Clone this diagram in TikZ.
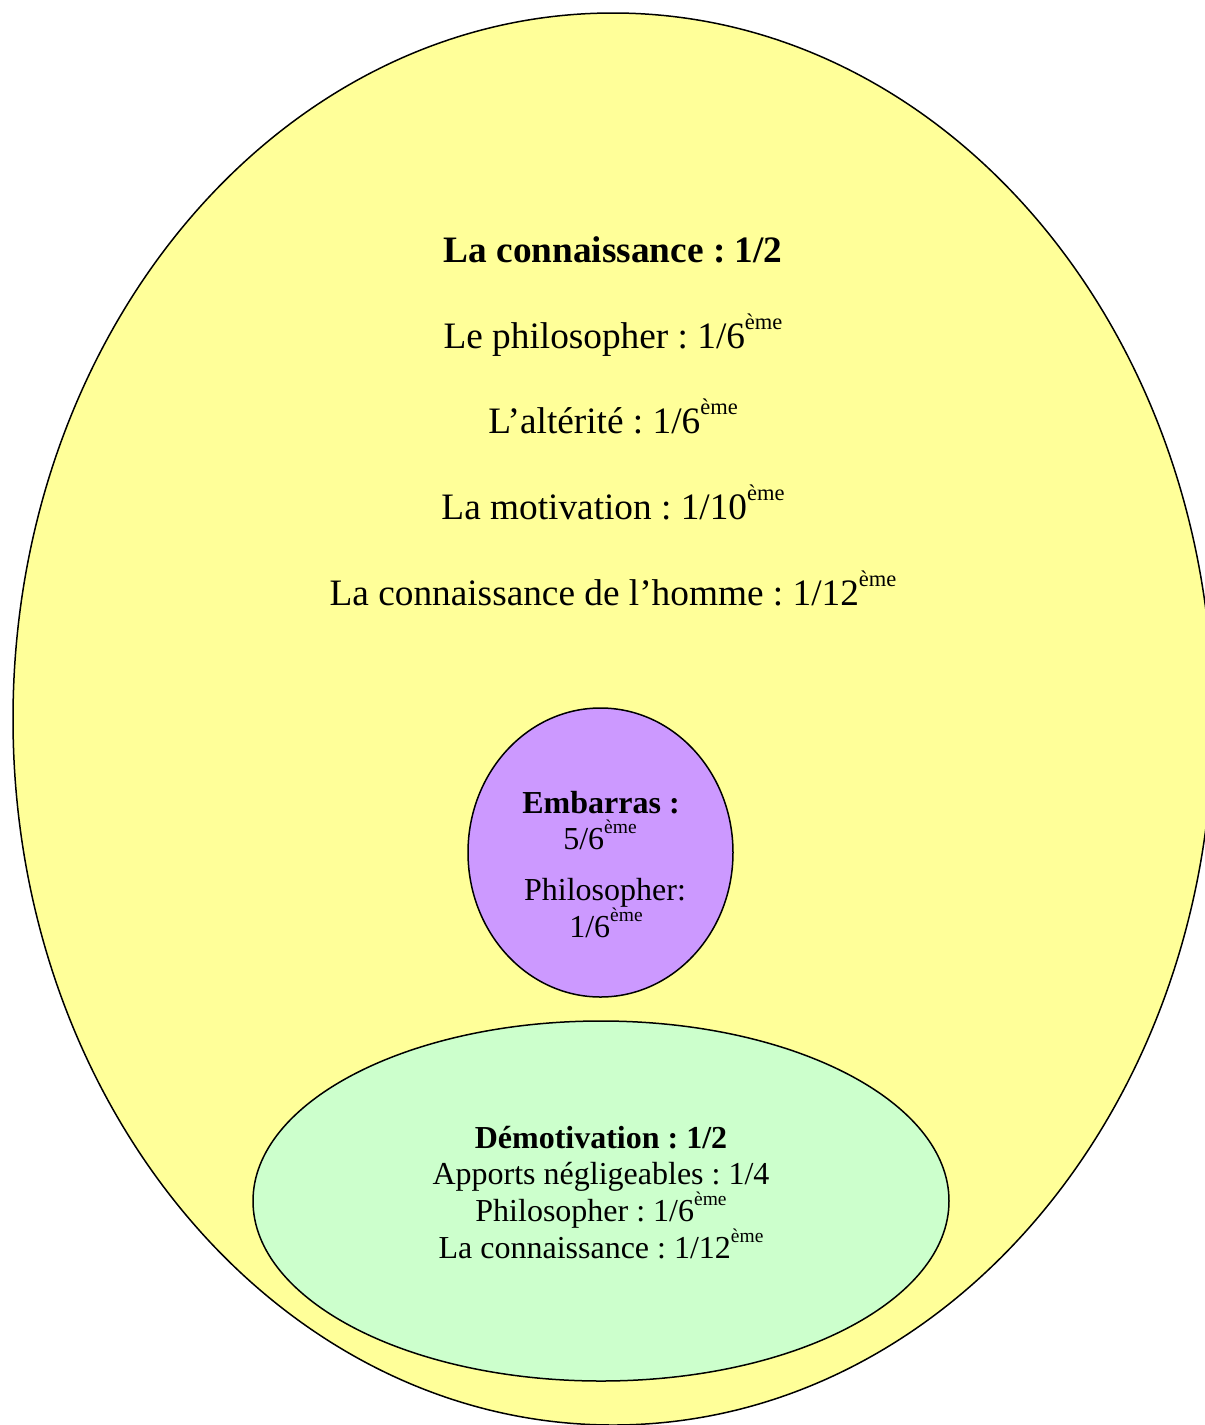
\documentclass[tikz,border=0pt]{standalone}
\usepackage{fontspec}
\setmainfont{Liberation Serif}
\frenchspacing
\definecolor{yel}{HTML}{FFFF99}
\definecolor{pur}{HTML}{CC99FF}
\definecolor{grn}{HTML}{CCFFCC}
\newcommand{\emeB}{\raisebox{19pt}{\fontsize{22.5}{22.5}\selectfont\mdseries ème}}
\newcommand{\emeS}{\raisebox{15.5pt}{\fontsize{19.5}{19.5}\selectfont\mdseries ème}}
\begin{document}
\begin{tikzpicture}[x=1pt,y=-1pt,
  big/.style={font=\fontsize{37.3}{44}\selectfont,anchor=base,inner sep=0pt},
  small/.style={font=\fontsize{32}{38}\selectfont,anchor=base,inner sep=0pt},
  shapeline/.style={draw=black,line width=1.5pt}]
\useasboundingbox (0,0) rectangle (1205,1425);
\clip (0,0) rectangle (1205,1425);
\fill[white] (0,0) rectangle (1205,1425);
\draw[shapeline,fill=yel] (613,719) ellipse [x radius=600, y radius=706];
\draw[shapeline,fill=pur] (600.5,852.5) ellipse [x radius=132.5, y radius=144.5];
\draw[shapeline,fill=grn] (601,1201) ellipse [x radius=348, y radius=180];
% top texts
\node[big,font=\fontsize{37.3}{44}\selectfont\bfseries] (t1) at (613,262) {La connaissance : 1/2};
\node[big] (t2) at (613,348) {Le philosopher : 1/6\emeB};
\node[big] (t3) at (613,433) {L’altérité : 1/6\emeB};
\node[big] (t4) at (613,519) {La motivation : 1/10\emeB};
\node[big] (t5) at (613,605) {La connaissance de l’homme : 1/12\emeB};
% purple texts
\node[small,font=\fontsize{32}{38}\selectfont\bfseries] (p1) at (601,813) {Embarras :};
\node[small] (p2) at (600,849) {5/6\emeS};
\node[small] (p3) at (605,900) {Philosopher:};
\node[small] (p4) at (606,937) {1/6\emeS};
% green texts
\node[small,font=\fontsize{32}{38}\selectfont\bfseries] (g1) at (601,1148) {Démotivation : 1/2};
\node[small] (g2) at (601,1184) {Apports négligeables : 1/4};
\node[small] (g3) at (601,1221) {Philosopher : 1/6\emeS};
\node[small] (g4) at (601,1258) {La connaissance : 1/12\emeS};
\end{tikzpicture}
\end{document}
